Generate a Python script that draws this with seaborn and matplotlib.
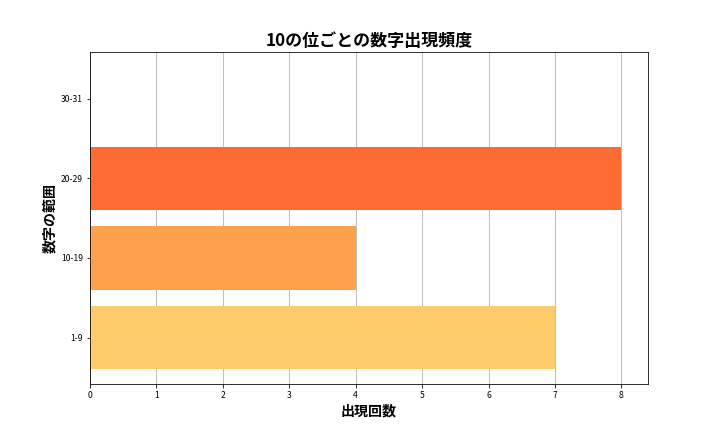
import matplotlib
matplotlib.use("Agg")
import matplotlib.pyplot as plt
import seaborn as sns
import pandas as pd

categories = ["1-9", "10-19", "20-29", "30-31"]
counts = [7, 4, 8, 0]
colors = ["#FECB6A", "#FDA24A", "#FD6B33", "#E8392A"]

plt.rcParams["font.family"] = ["Noto Sans CJK JP", "DejaVu Sans"]
df = pd.DataFrame({"range": categories, "count": counts})
fig, ax = plt.subplots(figsize=(10, 6), dpi=72)
order = categories[::-1]
pal = dict(zip(categories, colors))
sns.barplot(data=df, y="range", x="count", order=order, hue="range", palette=pal,
            legend=False, width=0.8, saturation=1, ax=ax)
ax.set_xlim(0, 8.4)
ax.set_ylim(3.59, -0.59)
ax.xaxis.grid(True, color="#b0b0b0", linewidth=0.8)
ax.set_axisbelow(True)
ax.tick_params(labelsize=8.5)
ax.set_title("10の位ごとの数字出現頻度", fontsize=17, fontweight="bold")
ax.set_xlabel("出現回数", fontsize=14, fontweight="bold")
ax.set_ylabel("数字の範囲", fontsize=14, fontweight="bold")
fig.savefig("out.png", dpi=72)
